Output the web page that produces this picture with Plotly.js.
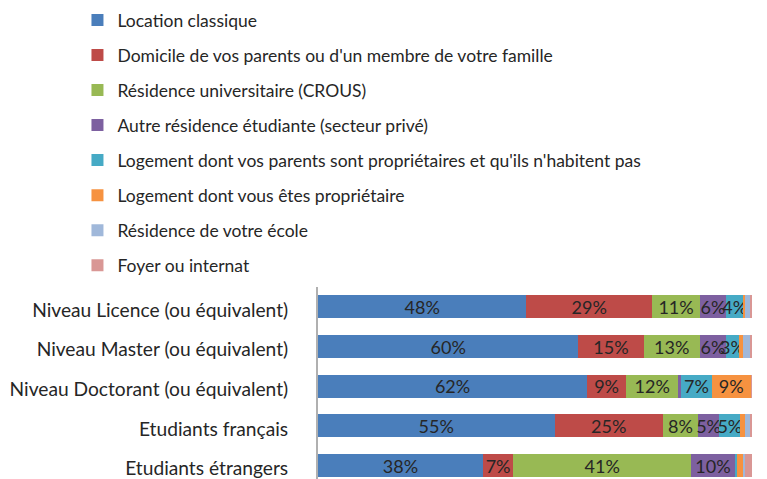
<!DOCTYPE html>
<html><head><meta charset="utf-8">
<script src="https://cdn.plot.ly/plotly-3.0.1.min.js"></script>
<style>html,body{margin:0;padding:0;background:#fff}</style>
</head><body><div id="chart" style="width:767px;height:479px"></div>
<script>
const categories = ["Niveau Licence (ou équivalent)", "Niveau Master (ou équivalent)", "Niveau Doctorant (ou équivalent)", "Etudiants français", "Etudiants étrangers"];
const seriesNames = [
  "Location classique",
  "Domicile de vos parents ou d'un membre de votre famille",
  "Résidence universitaire (CROUS)",
  "Autre résidence étudiante (secteur privé)",
  "Logement dont vos parents sont propriétaires et qu'ils n'habitent pas",
  "Logement dont vous êtes propriétaire",
  "Résidence de votre école",
  "Foyer ou internat"
];
const locationClassique = [48, 60, 62, 54.5, 38];
const domicileParents   = [29, 15, 9, 25, 7];
const residenceUniv     = [11, 13, 12, 8, 41];
const autreResidence    = [6, 6, 0.7, 5, 10];
const logementParents   = [4, 3, 7, 4.8, 0.5];
const logementProprio   = [0.5, 1, 9, 1, 1.5];
const residenceEcole    = [1, 1.5, 0, 1.2, 0.5];
const foyerInternat     = [0.5, 0.5, 0.3, 0.5, 1.5];
const seriesValues = [locationClassique, domicileParents, residenceUniv, autreResidence, logementParents, logementProprio, residenceEcole, foyerInternat];
const colors = ["#4A7EBB", "#BE4B48", "#98B954", "#7D60A0", "#46AAC5", "#F69240", "#A0B8DA", "#D99795"];

const FONT = "Lato, 'Open Sans', sans-serif";
const traces = seriesValues.map((vals, i) => ({
  type: "bar",
  orientation: "h",
  name: seriesNames[i],
  y: categories,
  x: vals,
  legendgroup: "g" + i,
  marker: {color: colors[i], line: {width: 0}},
  text: vals.map(v => v >= 2.5 ? Math.round(v) + "%" : ""),
  textposition: "inside",
  insidetextanchor: "middle",
  constraintext: "none",
  textangle: 0,
  textfont: {family: FONT, size: 18, color: "#262626"},
  hoverinfo: "name+x"
}));

const layout = {
  width: 767, height: 479,
  margin: {l: 318, r: 15, t: 287, b: 0, pad: 0, autoexpand: false},
  paper_bgcolor: "#fff", plot_bgcolor: "#fff",
  barmode: "stack",
  bargap: 0.42,
  showlegend: true,
  legend: {
    xref: "container", yref: "container",
    x: 0.101, y: 1 - 2/479, xanchor: "left", yanchor: "top",
    traceorder: "grouped", tracegroupgap: 9.3,
    maxheight: 300,
    font: {family: FONT, size: 17.5, color: "#262626"},
    bgcolor: "rgba(0,0,0,0)", itemclick: false
  },
  xaxis: {range: [0, 100], visible: false, fixedrange: true},
  yaxis: {
    range: [4.34, -0.5], fixedrange: true,
    showline: true, linecolor: "#b0b0b0", linewidth: 2,
    showgrid: false, zeroline: false, ticks: "",
    ticklabelstandoff: 24,
    ticklabelshift: -3,
    tickfont: {family: FONT, size: 19.2, color: "#262626"}
  }
};
Plotly.newPlot("chart", traces, layout, {displayModeBar: false, staticPlot: true});
</script></body></html>
